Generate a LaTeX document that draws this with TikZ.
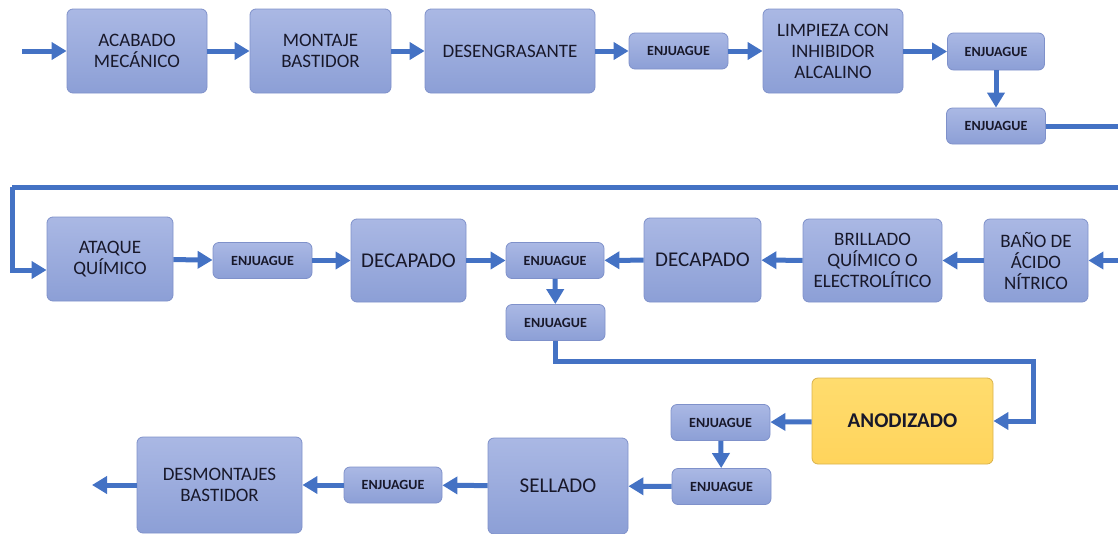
\documentclass[tikz,border=0pt]{standalone}
\usepackage{fontspec}
\setmainfont{Carlito}
\usetikzlibrary{arrows.meta}
\definecolor{boxtop}{HTML}{AAB8E4}
\definecolor{boxbot}{HTML}{8C9FD6}
\definecolor{boxline}{HTML}{7F91CA}
\definecolor{ytop}{HTML}{FFDC6E}
\definecolor{ybot}{HTML}{FFD45C}
\definecolor{yline}{HTML}{D9B24C}
\definecolor{arrowc}{HTML}{4472C4}
\definecolor{txt}{HTML}{18182A}
\begin{document}
\begin{tikzpicture}[x=1pt,y=-1pt,
  box/.style={draw=boxline, line width=0.8pt, rounded corners=6pt, top color=boxtop, bottom color=boxbot,
    align=center, text=txt, inner sep=0pt, font=\fontsize{19}{21}\selectfont},
  bigtxt/.style={font=\fontsize{21}{23}\selectfont},
  small/.style={box, minimum width=99pt, minimum height=36pt, font=\bfseries\fontsize{14}{16}\selectfont},
  ybox/.style={box, draw=yline, top color=ytop, bottom color=ybot, font=\bfseries\fontsize{21}{23}\selectfont},
  flow/.style={draw=arrowc, line width=5pt, -{Triangle[length=15pt,width=17pt]}},
  plain/.style={draw=arrowc, line width=5pt}]
\useasboundingbox (0,0) rectangle (1118,533);
% row 1
\node[box, minimum width=140pt, minimum height=84pt] (b1) at (137,51) {ACABADO\\MECÁNICO};
\node[box, minimum width=141pt, minimum height=84pt] (b2) at (320.5,51) {MONTAJE\\BASTIDOR};
\node[box, minimum width=170pt, minimum height=84pt] (b3) at (510,51) {DESENGRASANTE};
\node[small] (e4) at (678.5,51) {ENJUAGUE};
\node[box, minimum width=140pt, minimum height=84pt] (b5) at (833,51) {LIMPIEZA CON\\INHIBIDOR\\ALCALINO};
\node[small, minimum width=97pt, minimum height=37pt] (e6) at (996,51.5) {ENJUAGUE};
\node[small] (e7) at (996,126) {ENJUAGUE};
\coordinate (in) at (22,51);
\coordinate (r1) at (1118,126);
\coordinate (r2) at (1118,187);
\coordinate (c1) at (12,187);
\draw[flow] (in) -- (b1);
\draw[flow] (b1) -- (b2);
\draw[flow] (b2) -- (b3);
\draw[flow] (b3) -- (e4);
\draw[flow] (e4) -- (b5);
\draw[flow] ([yshift=-0.5pt]b5.east) -- ([yshift=0pt]e6.west);
\draw[flow] (e6) -- (e7);
\draw[plain] (e7.east) -- (r1);
% row 2
\node[box, minimum width=126pt, minimum height=84pt] (b8) at (110,259) {ATAQUE\\QUÍMICO};
\node[small] (e9) at (262.5,260.5) {ENJUAGUE};
\node[box, bigtxt, minimum width=115pt, minimum height=83pt] (b10) at (408.5,260.5) {DECAPADO};
\node[small, minimum width=98pt] (e11) at (555,260.5) {ENJUAGUE};
\node[small] (e11b) at (555.5,322.5) {ENJUAGUE};
\node[box, bigtxt, minimum width=117pt, minimum height=84pt] (b12) at (702.5,260) {DECAPADO};
\node[box, minimum width=139pt, minimum height=83pt] (b13) at (872.5,260.5) {BRILLADO\\QUÍMICO O\\ELECTROLÍTICO};
\node[box, minimum width=104pt, minimum height=83pt] (b14) at (1036,260.5) {BAÑO DE\\ÁCIDO\\NÍTRICO};
\coordinate (r3) at (1118,260.5);
\coordinate (c3) at (1033,361);
\draw[plain] (r2) -- (c1);
\draw[flow] (c1) |- ([yshift=-11pt]b8.west);
\draw[flow] (b8) -- (e9);
\draw[flow] (e9) -- (b10);
\draw[flow] (b10) -- (e11);
\draw[flow] (b12) -- (e11);
\draw[flow] (b13) -- (b12);
\draw[flow] (b14) -- (b13);
\draw[flow] (r3) -- (b14);
\draw[flow] (e11) -- (e11b);
% row 3
\node[ybox, minimum width=181pt, minimum height=86pt] (an) at (902.5,421) {ANODIZADO};
\node[small] (e15) at (720.5,422.5) {ENJUAGUE};
\node[small] (e16) at (721.5,486.5) {ENJUAGUE};
\node[box, bigtxt, minimum width=140pt, minimum height=96pt] (b17) at (558,486) {SELLADO};
\node[small, minimum width=98pt] (e18) at (393,485) {ENJUAGUE};
\node[box, minimum width=165pt, minimum height=96pt] (b19) at (219.5,485) {DESMONTAJES\\BASTIDOR};
\coordinate (out) at (92,485);
\draw[flow] (e11b.south) |- (c3) |- (an.east);
\draw[flow] (an) -- (e15);
\draw[flow] (e15) -- (e16);
\draw[flow] (e16) -- (b17);
\draw[flow] (b17) -- (e18);
\draw[flow] (e18) -- (b19);
\draw[flow] (b19) -- (out);
\end{tikzpicture}
\end{document}
